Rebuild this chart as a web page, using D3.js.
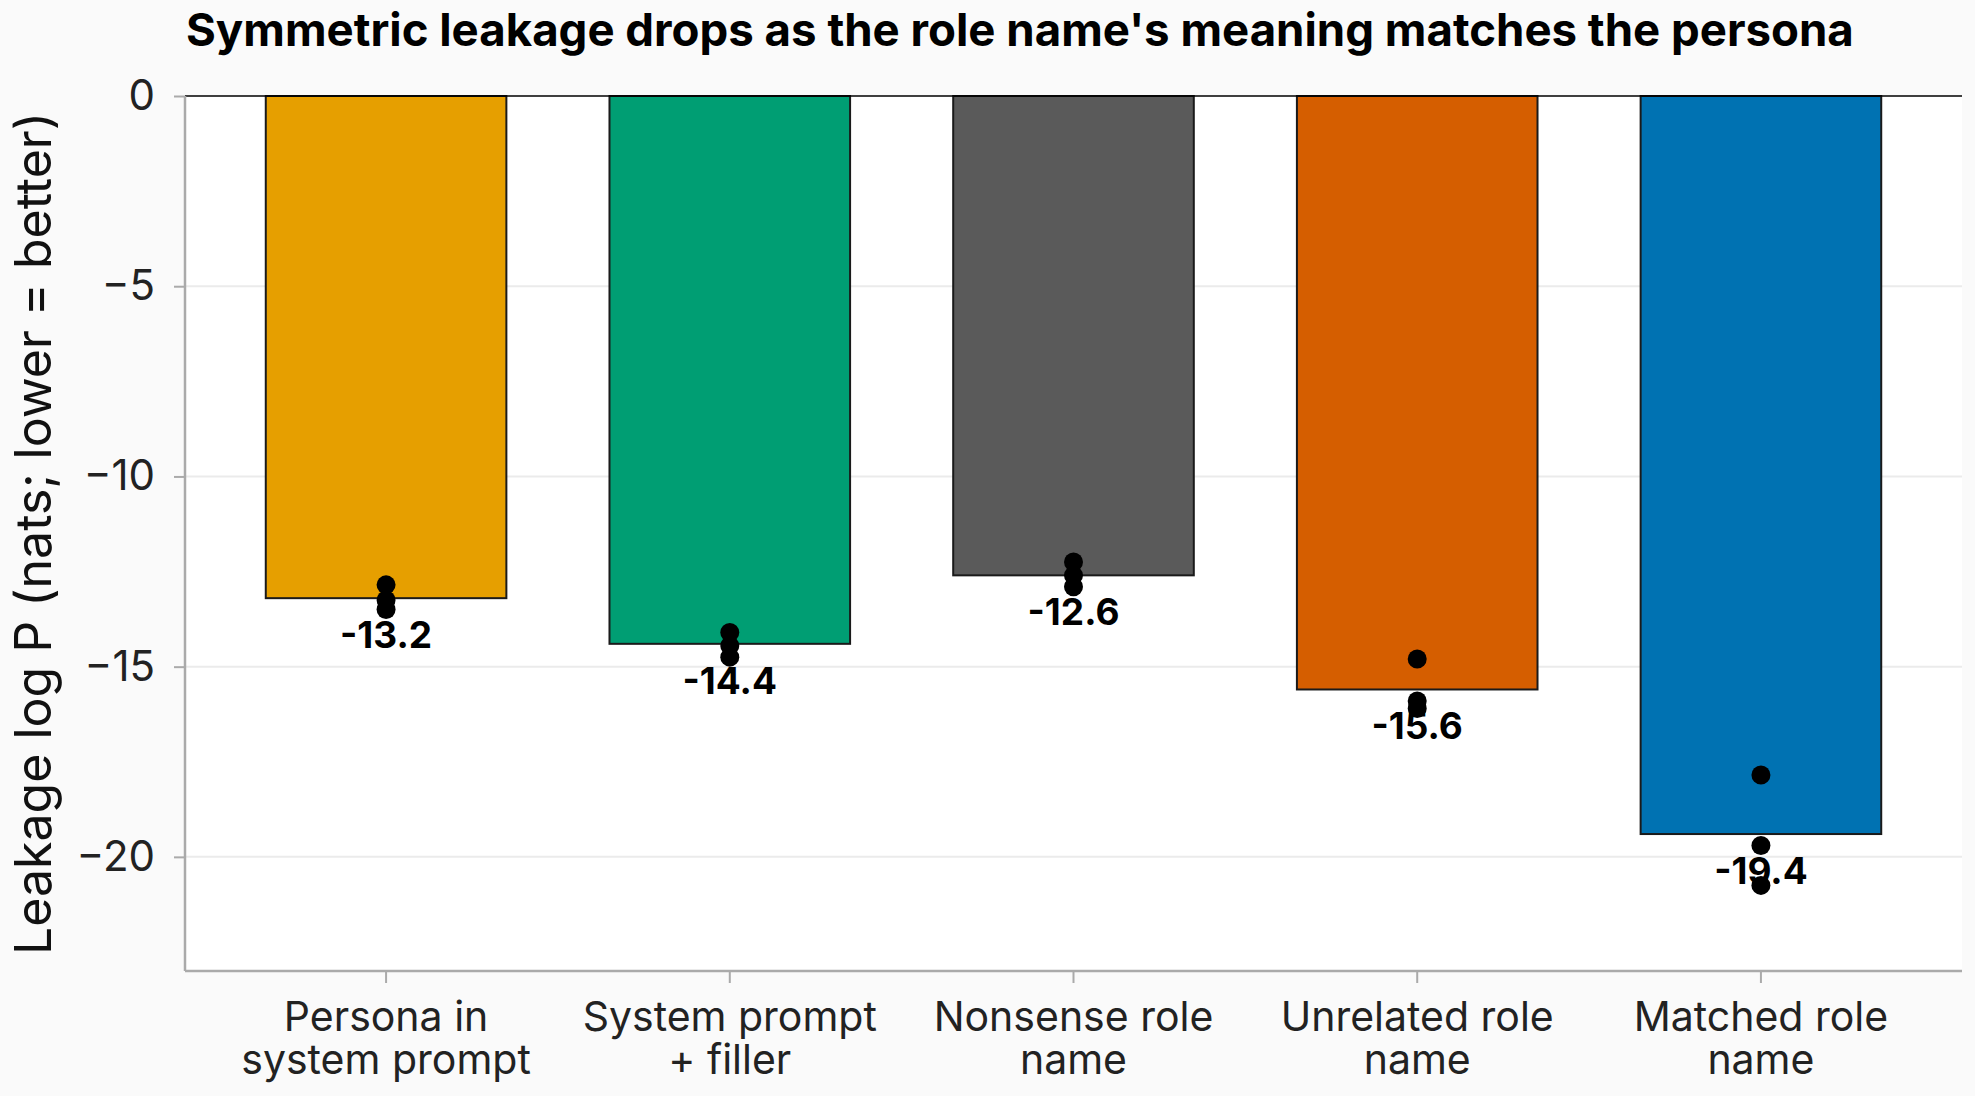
<!DOCTYPE html>
<html>
<head>
<meta charset="utf-8">
<script src="https://cdn.jsdelivr.net/npm/d3@7"></script>
<style>
  body { margin: 0; background: #fafafa; }
  svg { display: block; font-family: Inter, "Noto Sans", sans-serif; }
</style>
</head>
<body>
<svg id="chart" width="1975" height="1096"></svg>
<script>
// data
const categories = [
  ["Persona in", "system prompt"],
  ["System prompt", "+ filler"],
  ["Nonsense role", "name"],
  ["Unrelated role", "name"],
  ["Matched role", "name"]
];
const meanValues = [-13.2, -14.4, -12.6, -15.6, -19.4];
const seedValues = [
  [-12.85, -13.25, -13.5],
  [-14.1, -14.45, -14.75],
  [-12.25, -12.6, -12.9],
  [-14.8, -15.9, -16.1],
  [-17.85, -19.7, -20.75]
];
const barColors = ["#E69F00", "#009E73", "#5a5a5a", "#D55E00", "#0072B2"];
const yTicks = [0, -5, -10, -15, -20];
const titleText = "Symmetric leakage drops as the role name's meaning matches the persona";
const yLabel = "Leakage log P (nats; lower = better)";

const W = 1975, H = 1096;
const plot = { left: 185, right: 1962, top: 96, bottom: 971 };

const svg = d3.select("#chart");

const idx = d3.range(categories.length);
const x = d3.scaleBand()
  .domain(idx)
  .range([plot.left, plot.right])
  .paddingInner(0.3)
  .paddingOuter(0.235);
const y = d3.scaleLinear().domain([-23, 0]).range([plot.bottom, plot.top]);

// plot background
svg.append("rect")
  .attr("x", plot.left).attr("y", plot.top)
  .attr("width", plot.right - plot.left).attr("height", plot.bottom - plot.top)
  .attr("fill", "#ffffff");

// grid
svg.append("g")
  .selectAll("line")
  .data(yTicks.filter(t => t !== 0))
  .join("line")
  .attr("x1", plot.left).attr("x2", plot.right)
  .attr("y1", d => y(d)).attr("y2", d => y(d))
  .attr("stroke", "#ebebeb").attr("stroke-width", 2);

// bars (hang down from 0)
svg.append("g")
  .selectAll("rect")
  .data(idx)
  .join("rect")
  .attr("x", i => x(i))
  .attr("width", x.bandwidth())
  .attr("y", y(0))
  .attr("height", i => y(meanValues[i]) - y(0))
  .attr("fill", i => barColors[i])
  .attr("stroke", "#1a1a1a")
  .attr("stroke-width", 2);

// zero line
svg.append("line")
  .attr("x1", plot.left).attr("x2", plot.right)
  .attr("y1", y(0)).attr("y2", y(0))
  .attr("stroke", "#000").attr("stroke-width", 1.5);

// per-seed dots
svg.append("g")
  .selectAll("g")
  .data(idx)
  .join("g")
  .each(function (i) {
    d3.select(this).selectAll("circle")
      .data(seedValues[i])
      .join("circle")
      .attr("cx", x(i) + x.bandwidth() / 2)
      .attr("cy", v => y(v))
      .attr("r", 9.5)
      .attr("fill", "#000");
  });

// value labels below each bar
svg.append("g")
  .selectAll("text")
  .data(idx)
  .join("text")
  .attr("x", i => x(i) + x.bandwidth() / 2)
  .attr("y", i => y(meanValues[i]) + 50)
  .attr("text-anchor", "middle")
  .attr("font-size", 37)
  .attr("font-weight", 700)
  .attr("fill", "#000")
  .text(i => meanValues[i].toFixed(1));

// y axis
const yAxis = svg.append("g")
  .attr("transform", `translate(${plot.left},0)`)
  .call(d3.axisLeft(y).tickValues(yTicks).tickSize(11).tickPadding(19)
    .tickFormat(d => d === 0 ? "0" : "\u2212" + Math.abs(d)));
yAxis.select(".domain").attr("stroke", "#aaaaaa").attr("stroke-width", 2.5)
  .attr("d", `M0,${plot.top}V${plot.bottom}`);
yAxis.selectAll(".tick line").attr("stroke", "#aaaaaa").attr("stroke-width", 2);
yAxis.selectAll(".tick text").attr("font-size", 42).attr("fill", "#222")
  .attr("font-family", "Inter, sans-serif");

// x axis
const xAxis = svg.append("g")
  .attr("transform", `translate(0,${plot.bottom})`)
  .call(d3.axisBottom(x).tickSize(12).tickFormat(""));
xAxis.select(".domain").attr("stroke", "#aaaaaa").attr("stroke-width", 2.5)
  .attr("d", `M${plot.left},0H${plot.right}`);
xAxis.selectAll(".tick line").attr("stroke", "#aaaaaa").attr("stroke-width", 2);

// two-line category labels, one text per line
const catG = svg.append("g")
  .attr("font-size", 41)
  .attr("fill", "#222")
  .attr("text-anchor", "middle");
idx.forEach(i => {
  categories[i].forEach((line, k) => {
    catG.append("text")
      .attr("x", x(i) + x.bandwidth() / 2)
      .attr("y", 1031 + k * 43)
      .text(line);
  });
});

// y label
svg.append("text")
  .attr("transform", `translate(51,${(plot.top + plot.bottom) / 2}) rotate(-90)`)
  .attr("text-anchor", "middle")
  .attr("font-size", 50)
  .attr("fill", "#111")
  .text(yLabel);

// title
svg.append("text")
  .attr("x", 186).attr("y", 46)
  .attr("font-size", 45.6)
  .attr("font-weight", 700)
  .attr("fill", "#000")
  .text(titleText);
</script>
</body>
</html>
